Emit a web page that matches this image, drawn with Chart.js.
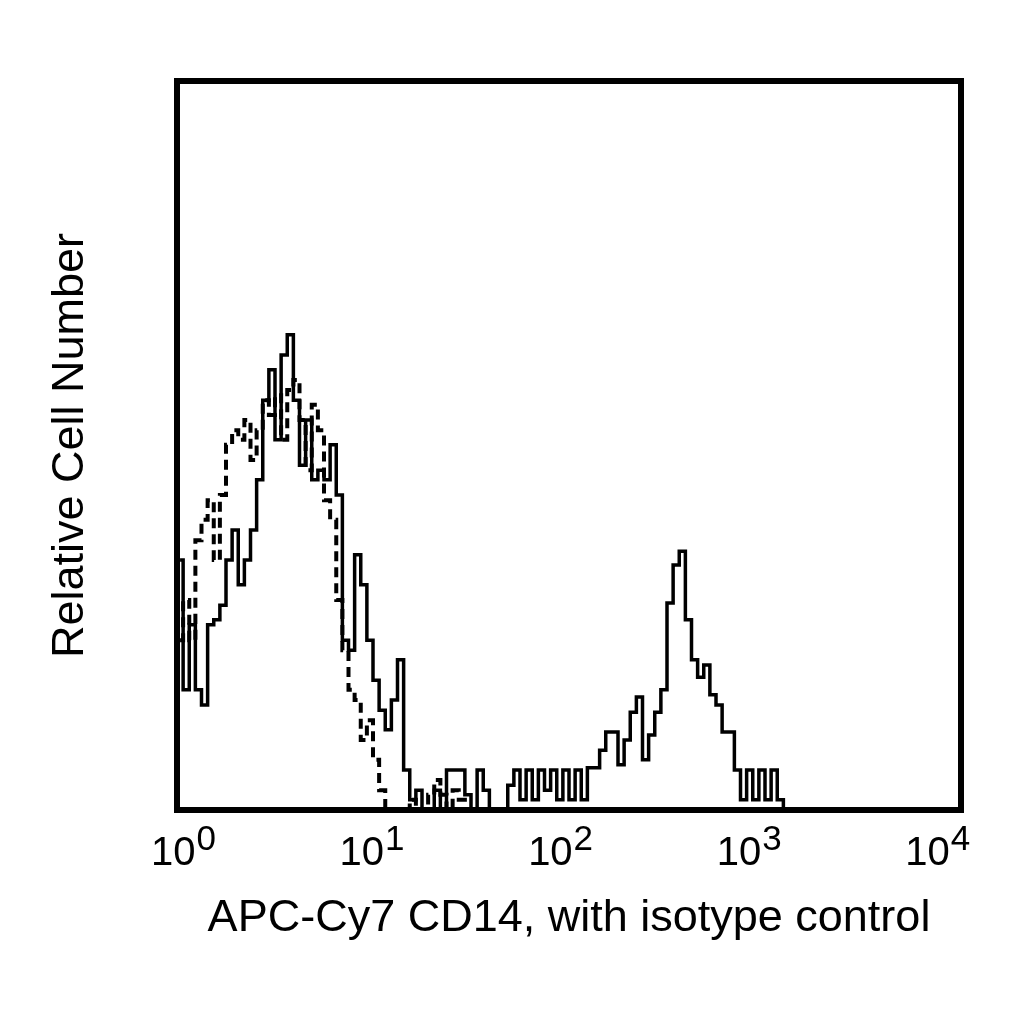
<!DOCTYPE html>
<html>
<head>
<meta charset="utf-8">
<script src="https://cdn.jsdelivr.net/npm/chart.js@4.4.1/dist/chart.umd.min.js"></script>
<style>
  html, body { margin: 0; padding: 0; background: #fff; }
</style>
</head>
<body>
<canvas id="grafico" width="1024" height="1024"></canvas>
<script>
// histogram channels: 32 per decade, 4 decades (10^0 .. 10^4)
const binsPerDecade = 32;
const decades = [0, 1, 2, 3, 4];
const xTitle = 'APC-Cy7 CD14, with isotype control';
const yTitle = 'Relative Cell Number';

// % of full scale
const cd14 = [
  34.3, 16.5, 25.4, 16.5, 14.4, 25.4, 26.1, 28.1, 34.3, 38.4,
  30.9, 34.3, 38.4, 45.3, 56.2, 60.4, 50.8, 62.4, 65.2, 56.2,
  47.3, 53.5, 45.3, 46.6, 45.3, 50.1, 43.2, 23.3, 21.9, 35.0,
  30.9, 23.3, 17.8, 13.7, 11.0, 15.1, 20.6, 5.5, 1.4, 2.7,
  0, 0, 2.7, 0, 5.5, 5.5, 5.5, 2.1, 0, 5.5,
  2.7, 0, 0, 0, 3.4, 5.5, 1.4, 5.5, 1.4, 5.5,
  2.7, 5.5, 1.4, 5.5, 1.4, 5.5, 1.4, 5.8, 5.8, 8.2,
  10.7, 10.7, 6.2, 9.6, 13.4, 15.5, 6.9, 10.3, 13.4, 16.5,
  28.4, 33.6, 35.5, 26.1, 20.6, 18.2, 19.9, 15.8, 14.4, 10.7,
  10.7, 5.5, 1.4, 5.5, 1.4, 5.5, 1.4, 5.5, 1.4, 0,
  0, 0, 0, 0, 0, 0, 0, 0, 0, 0,
  0, 0, 0, 0, 0, 0, 0, 0, 0, 0,
  0, 0, 0, 0, 0, 0, 0, 0
];

const isotype = [
  23.3, 28.8, 23.3, 37.0, 39.8, 42.5, 34.3, 43.2, 50.1, 52.1,
  50.8, 53.5, 48.0, 52.1, 56.2, 54.2, 56.9, 50.8, 57.6, 59.0,
  53.5, 46.6, 55.6, 52.1, 42.5, 39.8, 28.8, 21.9, 16.5, 15.1,
  9.6, 12.3, 6.9, 2.7, 0, 0, 0, 0, 1.4, 0,
  0, 2.1, 4.1, 2.1, 0, 2.7, 1.4, 0, 0, 0,
  0, 0, 0, 0, 0, 0, 0, 0, 0, 0,
  0, 0, 0, 0, 0, 0, 0, 0, 0, 0,
  0, 0, 0, 0, 0, 0, 0, 0, 0, 0,
  0, 0, 0, 0, 0, 0, 0, 0, 0, 0,
  0, 0, 0, 0, 0, 0, 0, 0, 0, 0,
  0, 0, 0, 0, 0, 0, 0, 0, 0, 0,
  0, 0, 0, 0, 0, 0, 0, 0, 0, 0,
  0, 0, 0, 0, 0, 0, 0, 0
];

function aPuntos(serie) {
  return serie.map((v, i) => ({ x: Math.pow(10, (i + 0.5) / binsPerDecade), y: v }));
}

const fuente = 'Liberation Sans, Arial, Helvetica, sans-serif';

// frame around the plot + 10^n tick labels
const marco = {
  id: 'marco',
  afterDraw(chart) {
    const ctx = chart.ctx;
    const area = chart.chartArea;
    const xs = chart.scales.x;
    ctx.save();
    ctx.strokeStyle = '#000';
    ctx.lineWidth = 6;
    ctx.strokeRect(area.left, area.top, area.right - area.left, area.bottom - area.top);

    ctx.fillStyle = '#000';
    ctx.textBaseline = 'alphabetic';
    ctx.textAlign = 'left';
    decades.forEach(d => {
      const p = xs.getPixelForValue(Math.pow(10, d));
      const cx = area.left + 6 + (p - area.left) * 0.962;
      ctx.font = '40px ' + fuente;
      const wBase = ctx.measureText('10').width;
      ctx.font = '35px ' + fuente;
      const wExp = ctx.measureText(String(d)).width;
      const x0 = cx - (wBase + wExp) / 2;
      ctx.font = '40px ' + fuente;
      ctx.fillText('10', x0, area.bottom + 55);
      ctx.font = '35px ' + fuente;
      ctx.fillText(String(d), x0 + wBase + 1, area.bottom + 40);
    });
    ctx.restore();
  }
};

new Chart(document.getElementById('grafico'), {
  type: 'line',
  data: {
    datasets: [
      {
        label: 'CD14',
        data: aPuntos(cd14),
        borderColor: '#000',
        borderWidth: 3.5,
        stepped: 'middle',
        pointRadius: 0,
        fill: false
      },
      {
        label: 'Isotype control',
        data: aPuntos(isotype),
        borderColor: '#000',
        borderWidth: 4,
        borderDash: [10, 6],
        stepped: 'middle',
        pointRadius: 0,
        fill: false
      }
    ]
  },
  options: {
    responsive: false,
    devicePixelRatio: 1,
    animation: false,
    layout: { padding: { top: 81, right: 63, left: 0, bottom: 0 } },
    plugins: { legend: { display: false }, tooltip: { enabled: false } },
    scales: {
      x: {
        type: 'logarithmic',
        min: 1,
        max: 10000,
        grid: { display: false },
        border: { display: false },
        ticks: { display: false },
        title: {
          display: true,
          text: xTitle,
          color: '#000',
          font: { family: fuente, size: 45 },
          padding: { top: 0, bottom: 78 }
        },
        afterFit: s => { s.height = 214; }
      },
      y: {
        min: 0,
        max: 100,
        grid: { display: false },
        border: { display: false },
        ticks: { display: false },
        title: {
          display: true,
          text: yTitle,
          color: '#000',
          font: { family: fuente, size: 45 },
          padding: { top: 44, bottom: 0 }
        },
        afterFit: s => { s.width = 177; }
      }
    }
  },
  plugins: [marco]
});
</script>
</body>
</html>
